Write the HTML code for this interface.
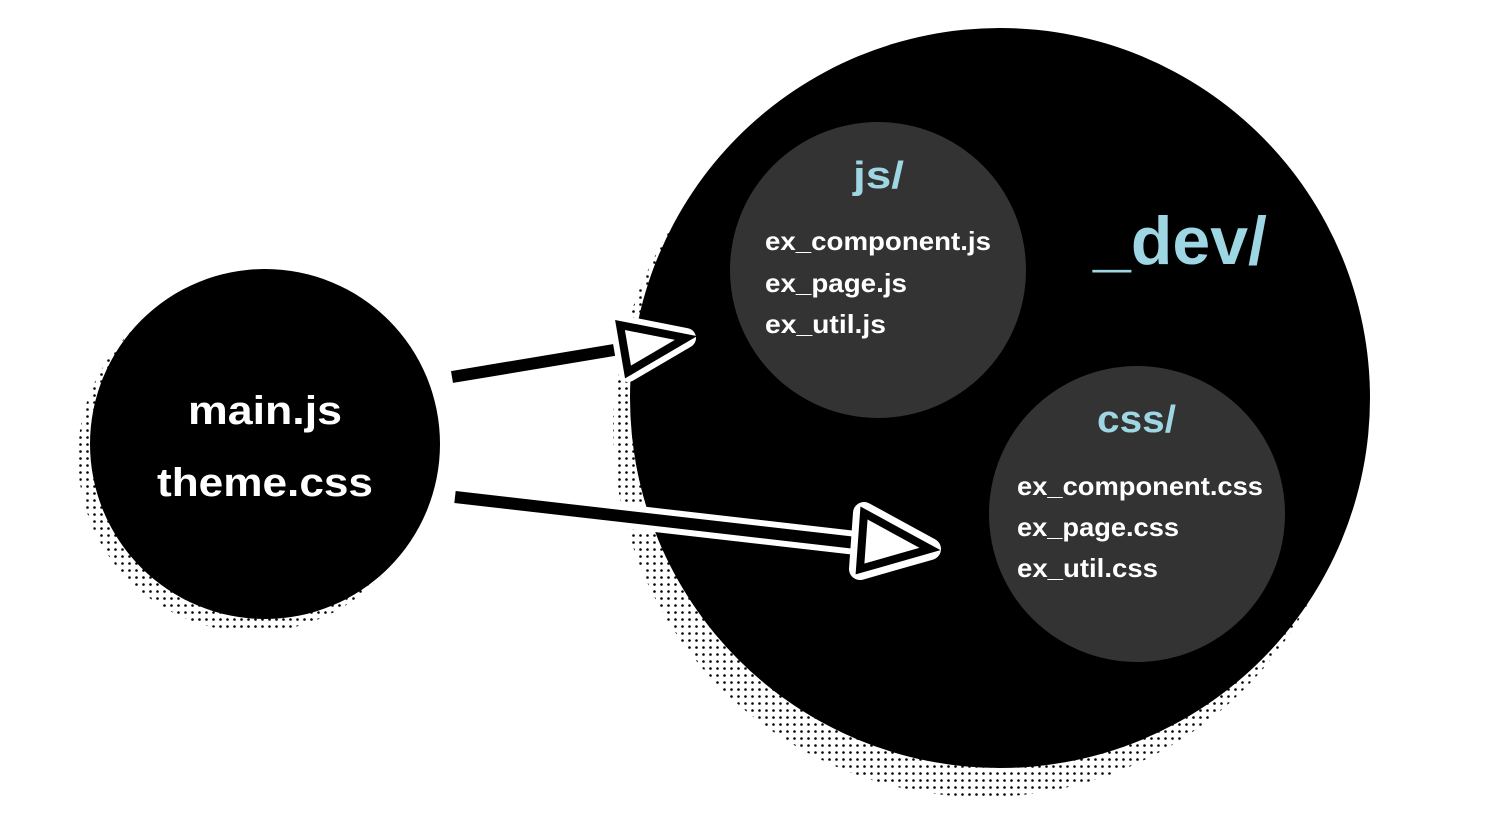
<!DOCTYPE html>
<html><head><meta charset="utf-8"><style>
html,body{margin:0;padding:0;background:#fff;}
svg{display:block}
text{font-family:"Liberation Sans",sans-serif;font-weight:bold;}
</style></head><body>
<svg width="1500" height="828" viewBox="0 0 1500 828" xmlns="http://www.w3.org/2000/svg">
<defs>
<pattern id="dots" width="7" height="7" patternUnits="userSpaceOnUse">
<circle cx="3.5" cy="3.5" r="1.3" fill="#000"/>
</pattern>
</defs>
<circle cx="253" cy="457" r="175" fill="url(#dots)"/>
<circle cx="983" cy="427" r="370" fill="url(#dots)"/>
<circle cx="265" cy="444" r="175" fill="#000"/>
<circle cx="1000" cy="398" r="370" fill="#000"/>
<circle cx="878" cy="270" r="148" fill="#333"/>
<circle cx="1137" cy="514" r="148" fill="#333"/>

<text x="188" y="424" font-size="40" fill="#fff" textLength="154" lengthAdjust="spacingAndGlyphs">main.js</text>
<text x="157" y="496" font-size="40" fill="#fff" textLength="216" lengthAdjust="spacingAndGlyphs">theme.css</text>

<text x="1180" y="264" font-size="68" fill="#9fd6e3" text-anchor="middle" font-weight="normal">_dev/</text>

<text x="853" y="188" font-size="38" fill="#9fd6e3" textLength="51" lengthAdjust="spacingAndGlyphs">js/</text>
<text x="765" y="250" font-size="26" fill="#fff" textLength="226" lengthAdjust="spacingAndGlyphs">ex_component.js</text>
<text x="765" y="292" font-size="26" fill="#fff" textLength="142" lengthAdjust="spacingAndGlyphs">ex_page.js</text>
<text x="765" y="333" font-size="26" fill="#fff" textLength="121" lengthAdjust="spacingAndGlyphs">ex_util.js</text>

<text x="1097" y="432" font-size="38" fill="#9fd6e3" textLength="79" lengthAdjust="spacingAndGlyphs">css/</text>
<text x="1017" y="495" font-size="26" fill="#fff" textLength="246" lengthAdjust="spacingAndGlyphs">ex_component.css</text>
<text x="1017" y="536" font-size="26" fill="#fff" textLength="162" lengthAdjust="spacingAndGlyphs">ex_page.css</text>
<text x="1017" y="577" font-size="26" fill="#fff" textLength="141" lengthAdjust="spacingAndGlyphs">ex_util.css</text>

<!-- arrow 1 -->
<line x1="452" y1="377" x2="620" y2="349" stroke="#000" stroke-width="12"/>
<polygon points="620,325 628,372 686,338" fill="#fff" stroke="#fff" stroke-width="20" stroke-linejoin="round"/>
<polygon points="620,325 628,372 686,338" fill="#fff" stroke="#000" stroke-width="8" stroke-linejoin="miter"/>

<!-- arrow 2 -->
<line x1="455" y1="497" x2="865" y2="544" stroke="#fff" stroke-width="24"/>
<line x1="455" y1="497" x2="865" y2="544" stroke="#000" stroke-width="12"/>
<polygon points="864,513 860,569 930,549" fill="#fff" stroke="#fff" stroke-width="22" stroke-linejoin="round"/>
<polygon points="864,513 860,569 930,549" fill="#fff" stroke="#000" stroke-width="8"/>
</svg>
</body></html>
